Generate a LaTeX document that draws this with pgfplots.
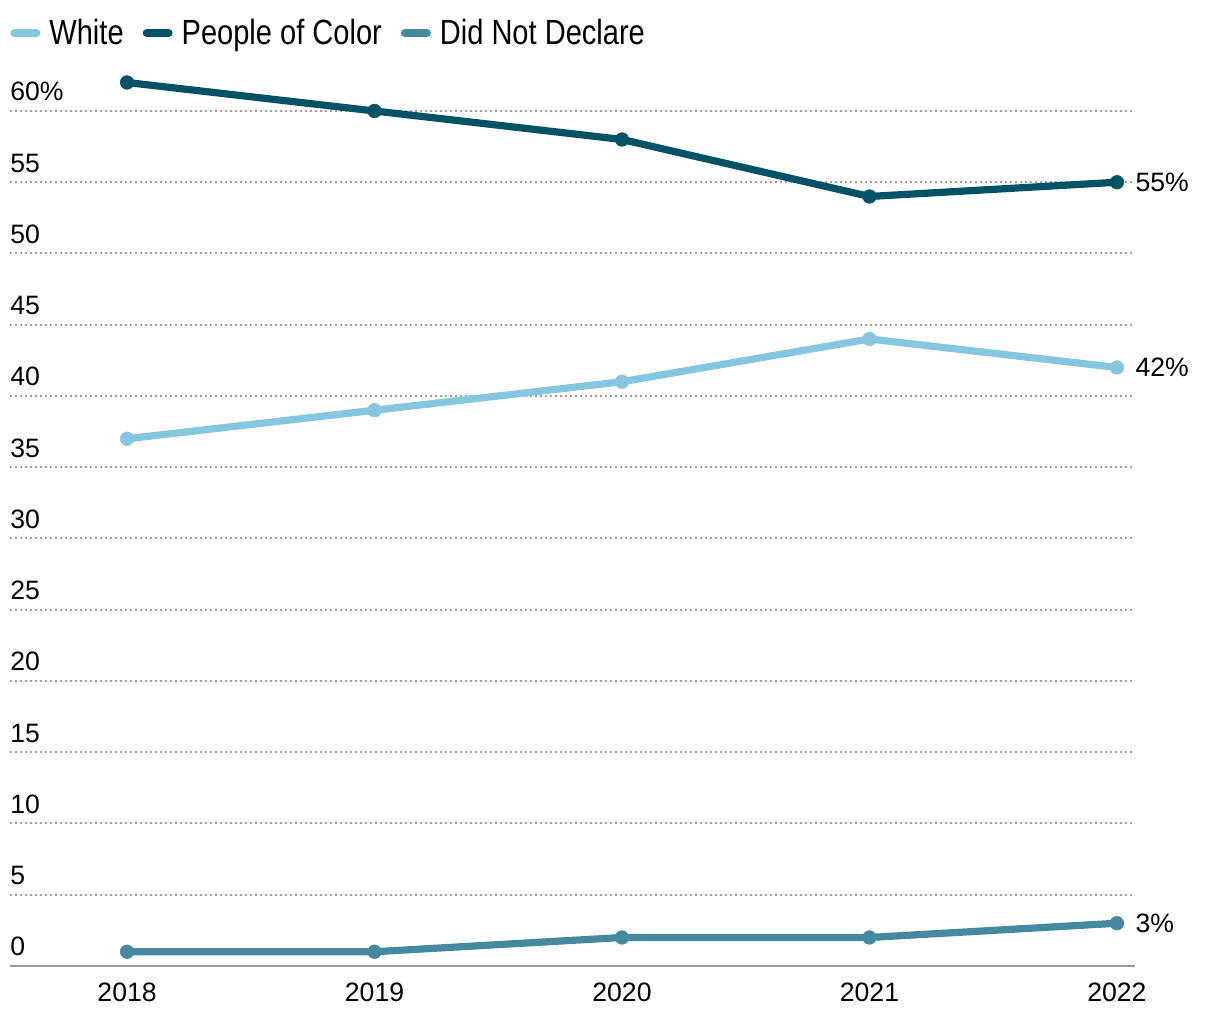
\documentclass[border=0pt]{standalone}
\usepackage{fontspec}
\setmainfont{Liberation Sans}
\newfontfamily\legfont[FakeStretch=0.83]{Liberation Sans}
\usepackage{pgfplots}
\pgfplotsset{compat=1.18}
\definecolor{cwhite}{HTML}{85C6E0}
\definecolor{cpoc}{HTML}{005266}
\definecolor{cdnd}{HTML}{4489A0}
\definecolor{cgrid}{HTML}{A0A0A0}
\definecolor{caxis}{HTML}{999999}
\begin{document}
\begin{tikzpicture}
\useasboundingbox (-5pt,-27pt) rectangle (605pt,483pt);
\begin{axis}[
  at={(0pt,0pt)}, anchor=south west,
  width=562.5pt, height=456pt, scale only axis,
  xmin=2017.527, xmax=2022.073, ymin=0, ymax=64,
  axis x line*=bottom, axis y line*=left,
  x axis line style={draw=caxis, line width=1pt},
  y axis line style={draw=none},
  xtick={2018,2019,2020,2021,2022},
  xticklabels={2018,2019,2020,2021,2022},
  ytick={0,5,...,60},
  yticklabels={0,5,10,15,20,25,30,35,40,45,50,55,60\%},
  major tick length=0pt,
  ymajorgrids,
  major grid style={draw=cgrid, line width=1pt, dash pattern=on 1pt off 1.5pt},
  tick label style={font=\fontsize{13.3}{16}\selectfont},
  /pgf/number format/assume math mode=true,
  yticklabel style={anchor=base west, inner sep=0pt, yshift=5pt, xshift=0pt},
  xticklabel style={anchor=base, inner sep=0pt, yshift=-18pt},
  legend columns=3,
  legend style={at={(0,1)}, anchor=west, yshift=10.5pt, xshift=0pt, draw=none, fill=none, inner sep=0pt,
    font=\legfont\fontsize{17.5}{20}\selectfont,
    /tikz/every even column/.append style={column sep=7.5pt}},
  legend image code/.code={\draw[#1, line width=4pt, line cap=round] (2pt,0pt) -- (13pt,0pt);},
  every axis plot/.append style={line width=3.6pt, mark=*, mark size=3.4pt, mark options={solid, line width=0.3pt}},
  clip=false,
]
\addplot[color=cwhite] coordinates {(2018,37) (2019,39) (2020,41) (2021,44) (2022,42)}
  node[pos=1, anchor=west, xshift=7.5pt, inner sep=0pt, text=black, font=\fontsize{13.3}{16}\selectfont] {42\%};
\addlegendentry{\hspace{2.5pt}White}
\addplot[color=cpoc] coordinates {(2018,62) (2019,60) (2020,58) (2021,54) (2022,55)}
  node[pos=1, anchor=west, xshift=7.5pt, inner sep=0pt, text=black, font=\fontsize{13.3}{16}\selectfont] {55\%};
\addlegendentry{\hspace{2.5pt}People of Color}
\addplot[color=cdnd] coordinates {(2018,1) (2019,1) (2020,2) (2021,2) (2022,3)}
  node[pos=1, anchor=west, xshift=7.5pt, inner sep=0pt, text=black, font=\fontsize{13.3}{16}\selectfont] {3\%};
\addlegendentry{\hspace{2.5pt}Did Not Declare}
\end{axis}
\end{tikzpicture}
\end{document}
